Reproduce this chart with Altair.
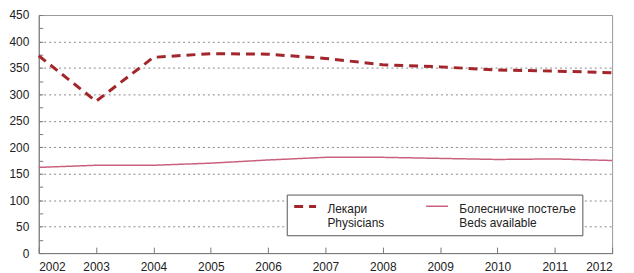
import altair as alt
import pandas as pd

years = list(range(2002, 2013))
physicians = [373, 287, 370, 377, 376, 368, 356, 352, 346, 344, 341]
beds = [162, 166, 166, 170, 176, 181, 181, 179, 177, 178, 175]
series_names = ["Лекари|Physicians", "Болесничке постеље|Beds available"]
series_colors = ["#a3262b", "#c9607e"]
y_ticks = list(range(0, 451, 25))

rows = []
for y, p, b in zip(years, physicians, beds):
    rows.append({"year": y, "value": p, "series": series_names[0]})
    rows.append({"year": y, "value": b, "series": series_names[1]})
df = pd.DataFrame(rows)

FONT = "Liberation Sans"

legend_opts = dict(title=None, orient="none", legendX=250, legendY=181,
                   direction="horizontal", columns=2, columnPadding=38,
                   labelExpr="split(datum.label, '|')",
                   labelFont=FONT, labelFontSize=12, labelColor="#222",
                   labelOffset=10, labelBaseline="alphabetic",
                   symbolType="M-1,-0.62L1,-0.62", symbolSize=484, symbolStrokeWidth=2,
                   symbolFillColor="transparent",
                   strokeColor="#555", padding=6, fillColor="white",
                   labelLimit=200)

chart = alt.Chart(df).mark_line().encode(
    x=alt.X("year:Q", scale=alt.Scale(domain=[2002, 2012], nice=False),
            axis=alt.Axis(values=years, format="d", title=None, grid=False,
                          tickSize={"expr": "-6"}, labelPadding=15,
                          domainColor="#777", tickColor="#777", labelFontSize=12,
                          labelColor="#222", labelFont=FONT)),
    y=alt.Y("value:Q", scale=alt.Scale(domain=[0, 450], nice=False),
            axis=alt.Axis(values=y_ticks, title=None,
                          labelExpr="datum.value % 50 == 0 ? datum.label : ''",
                          tickSize={"expr": "-4"}, labelPadding=14,
                          grid=True, gridDash=[2, 3], gridColor="#888",
                          gridOpacity={"expr": "(datum.value % 50 == 0 && datum.value > 0 && datum.value < 450) ? 1 : 0"},
                          domainColor="#777", tickColor="#777", labelFontSize=12,
                          labelColor="#222", labelFont=FONT)),
    color=alt.Color("series:N", sort=series_names,
                    scale=alt.Scale(domain=series_names, range=series_colors),
                    legend=alt.Legend(**legend_opts)),
    strokeDash=alt.StrokeDash("series:N", sort=series_names,
                              scale=alt.Scale(domain=series_names, range=[[9, 6], [1, 0]]),
                              legend=alt.Legend(**legend_opts)),
    strokeWidth=alt.StrokeWidth("series:N", sort=series_names,
                                scale=alt.Scale(domain=series_names, range=[3, 1.5]),
                                legend=None),
).properties(
    width=578, height=240,
    autosize=alt.AutoSizeParams(type="none"),
    padding={"left": 31, "top": 6, "right": 14, "bottom": 21},
).configure_view(
    stroke="#999"
)

chart.save("out.html", embed_options={"renderer": "svg", "actions": False})
